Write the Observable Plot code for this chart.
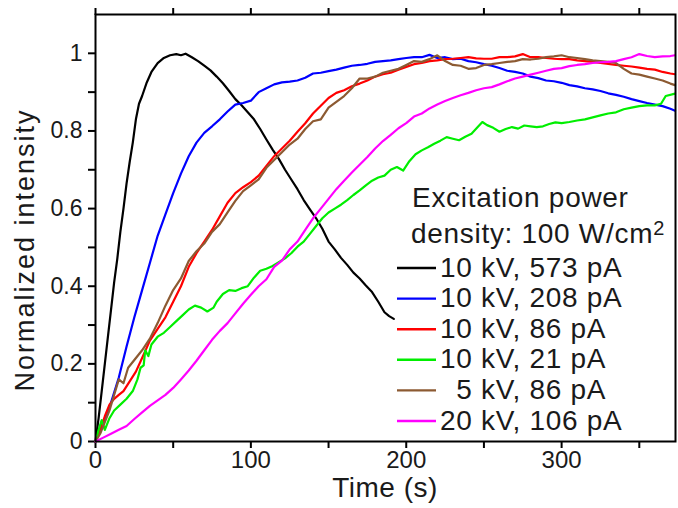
<!DOCTYPE html>
<html><head><meta charset="utf-8">
<script src="https://cdn.jsdelivr.net/npm/d3@7"></script>
<script src="https://cdn.jsdelivr.net/npm/@observablehq/plot@0.6"></script>
<style>
html,body{margin:0;padding:0;background:#fff;}
#chart{position:relative;width:678px;height:508px;}
#chart svg{position:absolute;left:0;top:0;}
</style></head><body><div id="chart"></div>
<script>
// ---- data (time in s, normalized intensity) ----
const seriesNames = ["10 kV, 573 pA", "10 kV, 208 pA", "10 kV, 86 pA", "10 kV, 21 pA", "\u20075 kV, 86 pA", "20 kV, 106 pA"];
const seriesColors = ["#000000", "#0000ff", "#ff0000", "#00ee00", "#8c5a32", "#ff00ff"];

const black = [[0,0],[2,0.06],[4,0.13],[6,0.2],[8,0.27],[10,0.34],[12,0.41],[14,0.47],[16,0.54],[18,0.6],[20,0.665],[22,0.72],[24,0.77],[26,0.83],[28,0.87],[30,0.89],[33,0.925],[36,0.952],[40,0.975],[44,0.988],[48,0.995],[52,0.998],[55,0.995],[58,0.999],[62,0.99],[66,0.98],[70,0.968],[74,0.956],[78,0.94],[82,0.923],[86,0.903],[90,0.882],[94,0.866],[98,0.848],[102,0.83],[106,0.805],[110,0.778],[114,0.752],[118,0.728],[122,0.70],[126,0.675],[130,0.65],[134,0.622],[138,0.598],[142,0.575],[146,0.548],[150,0.515],[154,0.495],[158,0.473],[162,0.455],[166,0.435],[170,0.42],[174,0.402],[178,0.385],[182,0.36],[186,0.333],[189,0.323],[192,0.316]];

const blue = [[0,0],[5,0.045],[10,0.1],[15,0.165],[20,0.245],[25,0.32],[30,0.39],[35,0.46],[40,0.53],[45,0.585],[50,0.64],[55,0.69],[60,0.735],[65,0.77],[70,0.795],[75,0.812],[80,0.83],[85,0.85],[90,0.868],[95,0.872],[100,0.878],[105,0.9],[110,0.91],[115,0.92],[120,0.925],[125,0.927],[130,0.93],[135,0.937],[140,0.948],[145,0.95],[150,0.954],[155,0.958],[160,0.963],[165,0.968],[170,0.97],[175,0.973],[180,0.978],[185,0.98],[190,0.982],[195,0.985],[200,0.988],[205,0.99],[210,0.99],[215,0.996],[220,0.988],[225,0.99],[230,0.985],[235,0.986],[240,0.98],[245,0.977],[250,0.972],[255,0.968],[260,0.962],[265,0.955],[270,0.952],[275,0.948],[280,0.94],[285,0.936],[290,0.93],[295,0.928],[300,0.924],[305,0.918],[310,0.915],[315,0.91],[320,0.907],[325,0.903],[330,0.897],[335,0.893],[340,0.888],[345,0.882],[350,0.877],[355,0.872],[360,0.868],[365,0.864],[370,0.857],[373,0.852]];

const red = [[0,0],[3,0.03],[6,0.065],[9,0.095],[12,0.11],[15,0.12],[18,0.13],[22,0.155],[26,0.18],[30,0.215],[35,0.26],[40,0.29],[45,0.32],[50,0.36],[55,0.4],[60,0.45],[65,0.485],[70,0.515],[75,0.545],[80,0.58],[85,0.615],[90,0.64],[95,0.655],[100,0.668],[105,0.685],[110,0.71],[115,0.735],[120,0.755],[125,0.775],[130,0.798],[135,0.82],[140,0.845],[145,0.865],[150,0.885],[155,0.898],[160,0.905],[165,0.915],[170,0.922],[175,0.93],[180,0.94],[185,0.946],[190,0.95],[195,0.958],[200,0.965],[205,0.972],[210,0.975],[215,0.98],[220,0.982],[225,0.985],[230,0.986],[235,0.988],[240,0.99],[245,0.987],[250,0.986],[255,0.986],[260,0.99],[265,0.99],[270,0.992],[275,0.998],[280,0.99],[285,0.99],[290,0.988],[295,0.986],[300,0.985],[305,0.985],[310,0.982],[315,0.98],[320,0.978],[325,0.975],[330,0.973],[335,0.97],[340,0.968],[345,0.966],[350,0.963],[355,0.96],[360,0.958],[365,0.952],[370,0.948],[373,0.946]];

const green = [[0,0],[2,0.03],[4,0.055],[6,0.03],[9,0.06],[12,0.08],[16,0.095],[20,0.11],[24,0.13],[27,0.16],[29,0.19],[31,0.196],[32,0.235],[34,0.22],[36,0.25],[40,0.27],[44,0.28],[48,0.295],[52,0.31],[56,0.325],[60,0.34],[64,0.35],[68,0.345],[72,0.335],[76,0.345],[78,0.36],[82,0.38],[86,0.39],[90,0.388],[94,0.395],[98,0.40],[102,0.422],[106,0.44],[110,0.445],[114,0.452],[118,0.462],[122,0.472],[126,0.485],[130,0.502],[134,0.515],[138,0.535],[142,0.555],[146,0.575],[150,0.59],[154,0.60],[158,0.61],[162,0.622],[166,0.635],[170,0.647],[174,0.66],[178,0.672],[182,0.68],[186,0.685],[190,0.70],[194,0.707],[198,0.698],[202,0.722],[206,0.74],[210,0.75],[214,0.758],[218,0.767],[222,0.775],[226,0.784],[230,0.78],[234,0.776],[238,0.785],[242,0.793],[246,0.81],[249,0.823],[252,0.815],[256,0.808],[260,0.798],[264,0.805],[268,0.81],[272,0.806],[276,0.814],[280,0.812],[284,0.81],[288,0.812],[292,0.818],[296,0.822],[300,0.82],[305,0.823],[310,0.827],[315,0.83],[320,0.835],[325,0.84],[330,0.845],[335,0.848],[340,0.856],[345,0.86],[350,0.864],[355,0.866],[360,0.866],[364,0.87],[367,0.89],[373,0.896]];

const brown = [[0,0],[3,0.02],[6,0.05],[9,0.08],[12,0.12],[15,0.16],[18,0.15],[21,0.19],[25,0.21],[30,0.235],[35,0.265],[40,0.305],[45,0.35],[50,0.39],[55,0.42],[60,0.465],[65,0.49],[70,0.51],[75,0.54],[80,0.56],[85,0.59],[90,0.62],[95,0.645],[100,0.66],[105,0.675],[110,0.705],[115,0.725],[120,0.745],[125,0.765],[130,0.78],[135,0.805],[140,0.825],[145,0.83],[150,0.86],[155,0.875],[160,0.89],[165,0.91],[170,0.935],[175,0.935],[180,0.94],[185,0.95],[190,0.955],[195,0.96],[200,0.97],[205,0.98],[210,0.978],[215,0.985],[220,0.995],[225,0.98],[230,0.97],[235,0.968],[240,0.96],[245,0.962],[250,0.97],[255,0.972],[260,0.975],[265,0.978],[270,0.98],[275,0.985],[280,0.984],[285,0.986],[290,0.99],[295,0.992],[300,0.995],[305,0.99],[310,0.988],[315,0.985],[320,0.982],[325,0.98],[330,0.978],[335,0.975],[340,0.96],[345,0.948],[350,0.945],[355,0.94],[360,0.935],[365,0.93],[370,0.922],[373,0.918]];

const magenta = [[0,0],[5,0.01],[10,0.02],[15,0.03],[20,0.04],[25,0.058],[30,0.075],[35,0.092],[40,0.106],[45,0.12],[50,0.138],[55,0.16],[60,0.183],[65,0.208],[70,0.235],[75,0.262],[80,0.285],[85,0.305],[90,0.33],[95,0.355],[100,0.378],[105,0.4],[110,0.418],[115,0.45],[120,0.466],[125,0.495],[130,0.515],[135,0.545],[140,0.575],[145,0.6],[150,0.625],[155,0.65],[160,0.672],[165,0.693],[170,0.713],[175,0.733],[180,0.755],[185,0.774],[190,0.79],[195,0.807],[200,0.82],[205,0.837],[210,0.845],[215,0.858],[220,0.868],[225,0.877],[230,0.885],[235,0.892],[240,0.898],[245,0.905],[250,0.91],[255,0.913],[260,0.92],[265,0.928],[270,0.935],[275,0.94],[280,0.945],[285,0.95],[290,0.955],[295,0.96],[300,0.962],[305,0.967],[310,0.97],[315,0.972],[320,0.975],[325,0.977],[330,0.978],[335,0.98],[340,0.985],[345,0.99],[350,0.998],[355,0.993],[360,0.99],[365,0.992],[370,0.993],[373,0.995]];

const xTicksMajor = [0, 100, 200, 300];
const xTickLabels = ["0", "100", "200", "300"];
const xTicksMinor = [50, 150, 250, 350];
const xTicksTop = [0, 50, 100, 150, 200, 250, 300, 350];
const yTicksMajor = [0, 0.2, 0.4, 0.6, 0.8, 1];
const yTickLabels = ["0", "0.2", "0.4", "0.6", "0.8", "1"];
const yTicksMinor = [0.1, 0.3, 0.5, 0.7, 0.9];

const xLabel = "Time (s)";
const yLabel = "Normalized intensity";
const legendTitle1 = "Excitation power";
const legendTitle2 = "density: 100 W/cm";
const legendTitleSup = "2";

// ---- build table ----
const allSeries = [black, blue, red, green, brown, magenta];
const rows = allSeries.flatMap((s, i) => s.map(([t, v]) => ({t, v, name: seriesNames[i]})));

const font = "'Liberation Sans', Arial, Helvetica, sans-serif";
const textColor = "#1a1a1a";
const noLabel = () => "";

const plot = Plot.plot({
  width: 678, height: 508,
  marginLeft: 95, marginRight: 3, marginTop: 14, marginBottom: 67,
  x: {domain: [0, 373.3]},
  y: {domain: [0, 1.1]},
  color: {domain: seriesNames, range: seriesColors},
  style: {fontFamily: font, background: "transparent", overflow: "visible"},
  marks: [
    Plot.axisX(xTicksMajor, {anchor: "bottom", tickSize: 7, tickPadding: 2, strokeWidth: 2, stroke: "black", fill: textColor, fontSize: 24, tickFormat: d => xTickLabels[xTicksMajor.indexOf(d)], label: null}),
    Plot.axisX(xTicksMinor, {anchor: "bottom", tickSize: 7, strokeWidth: 2, stroke: "black", tickFormat: noLabel, label: null}),
    Plot.axisX(xTicksTop, {anchor: "top", tickSize: 7, strokeWidth: 2, stroke: "black", tickFormat: noLabel, label: null}),
    Plot.axisY(yTicksMajor, {anchor: "left", tickSize: 7, tickPadding: 6, strokeWidth: 2, stroke: "black", fill: textColor, fontSize: 23, tickFormat: d => yTickLabels[yTicksMajor.indexOf(d)], label: null}),
    Plot.axisY(yTicksMinor, {anchor: "left", tickSize: 7, strokeWidth: 2, stroke: "black", tickFormat: noLabel, label: null}),
    Plot.line(rows, {x: "t", y: "v", z: "name", stroke: "name", strokeWidth: 2.2}),
    Plot.frame({stroke: "black", strokeWidth: 2})
  ]
});

const chart = document.getElementById("chart");
chart.appendChild(plot);

// ---- overlay: axis titles and legend ----
const ov = d3.select(chart).append("svg")
  .attr("width", 678).attr("height", 508)
  .style("pointer-events", "none")
  .attr("font-family", font).attr("fill", textColor);

ov.append("text")
  .attr("x", 385).attr("y", 497)
  .attr("text-anchor", "middle")
  .attr("font-size", 28).attr("letter-spacing", 0.5)
  .text(xLabel);

ov.append("text")
  .attr("transform", "translate(34,250) rotate(-90)")
  .attr("text-anchor", "middle")
  .attr("font-size", 27).attr("letter-spacing", 2)
  .text(yLabel);

const lg = ov.append("g").attr("font-size", 28).attr("letter-spacing", 0.7);
lg.append("text").attr("x", 412).attr("y", 207).text(legendTitle1);
const t2 = lg.append("text").attr("x", 411).attr("y", 243);
t2.append("tspan").text(legendTitle2);
t2.append("tspan").attr("dy", -8).attr("font-size", 20).text(legendTitleSup);

seriesNames.forEach((name, i) => {
  const yl = 268 + i * 30.6;
  lg.append("line").attr("x1", 397).attr("x2", 436).attr("y1", yl).attr("y2", yl)
    .attr("stroke", seriesColors[i]).attr("stroke-width", 2.4);
  lg.append("text").attr("x", 440).attr("y", yl + 8.5).style("white-space", "pre").text(name);
});
</script>
</body></html>
